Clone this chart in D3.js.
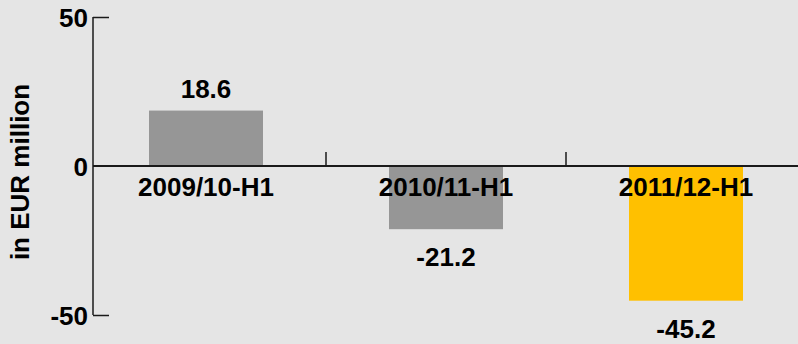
<!DOCTYPE html>
<html>
<head>
<meta charset="utf-8">
<script src="https://cdn.jsdelivr.net/npm/d3@7"></script>
<style>
  html, body { margin: 0; padding: 0; background: #e5e5e5; }
  svg { display: block; }
  text { font-family: "Liberation Sans", Arial, sans-serif; font-weight: bold; fill: #000; }
</style>
</head>
<body>
<svg id="chart" width="798" height="344"></svg>
<script>
// Half-year result, in EUR million
const categories = ["2009/10-H1", "2010/11-H1", "2011/12-H1"];
const values = [18.6, -21.2, -45.2];
const barColors = ["#969696", "#969696", "#ffc000"];
const valueLabels = ["18.6", "-21.2", "-45.2"];
const yTicks = [50, 0, -50];

const svg = d3.select("#chart");
const W = 798, H = 344;
const fontSize = "26px";

const y = d3.scaleLinear().domain([-50, 50]).range([315, 17]);
const x = d3.scaleBand().domain(categories).range([86, 806]).paddingInner(0.525).paddingOuter(0.2625);
const axisX = 93;
const axisColor = "#1a1a1a";

// bars
svg.selectAll("rect.bar")
  .data(values)
  .enter().append("rect")
  .attr("class", "bar")
  .attr("x", (d, i) => x(categories[i]))
  .attr("width", x.bandwidth())
  .attr("y", d => y(Math.max(0, d)))
  .attr("height", d => Math.abs(y(d) - y(0)))
  .attr("fill", (d, i) => barColors[i]);

// y axis with inward ticks at the extremes only
const yAxis = d3.axisRight(y).tickValues([50, -50]).tickSize(16).tickFormat("");
const gy = svg.append("g").attr("transform", `translate(${axisX},0)`).call(yAxis);
gy.select(".domain").remove();
gy.selectAll("line").attr("stroke", axisColor).attr("stroke-width", 1.5);
svg.append("line")
  .attr("x1", axisX).attr("x2", axisX)
  .attr("y1", y(50)).attr("y2", y(-50))
  .attr("stroke", axisColor).attr("stroke-width", 1.5);

// y tick labels
svg.selectAll("text.ytick")
  .data(yTicks)
  .enter().append("text")
  .attr("class", "ytick")
  .attr("x", axisX - 5)
  .attr("y", d => y(d))
  .attr("dy", "0.38em")
  .attr("text-anchor", "end")
  .style("font-size", fontSize)
  .text(d => d);

// category axis along zero, ticks between categories pointing up
const boundaries = categories.map(c => x(c) + x.bandwidth() + x.step() * x.paddingInner() / 2);
svg.append("line")
  .attr("x1", axisX).attr("x2", W)
  .attr("y1", y(0)).attr("y2", y(0))
  .attr("stroke", axisColor).attr("stroke-width", 2);
svg.selectAll("line.xtick")
  .data(boundaries)
  .enter().append("line")
  .attr("class", "xtick")
  .attr("x1", d => d).attr("x2", d => d)
  .attr("y1", y(0)).attr("y2", y(0) - 14)
  .attr("stroke", axisColor).attr("stroke-width", 1.5);

// category labels
svg.selectAll("text.cat")
  .data(categories)
  .enter().append("text")
  .attr("class", "cat")
  .attr("x", d => x(d) + x.bandwidth() / 2)
  .attr("y", y(0) + 30)
  .attr("text-anchor", "middle")
  .style("font-size", fontSize)
  .text(d => d);

// value labels
svg.selectAll("text.val")
  .data(values)
  .enter().append("text")
  .attr("class", "val")
  .attr("x", (d, i) => x(categories[i]) + x.bandwidth() / 2)
  .attr("y", d => d >= 0 ? y(d) - 13 : y(d) + 37)
  .attr("text-anchor", "middle")
  .style("font-size", fontSize)
  .text((d, i) => valueLabels[i]);

// axis title
svg.append("text")
  .attr("transform", `translate(29,172) rotate(-90)`)
  .attr("text-anchor", "middle")
  .style("font-size", fontSize)
  .text("in EUR million");
</script>
</body>
</html>
